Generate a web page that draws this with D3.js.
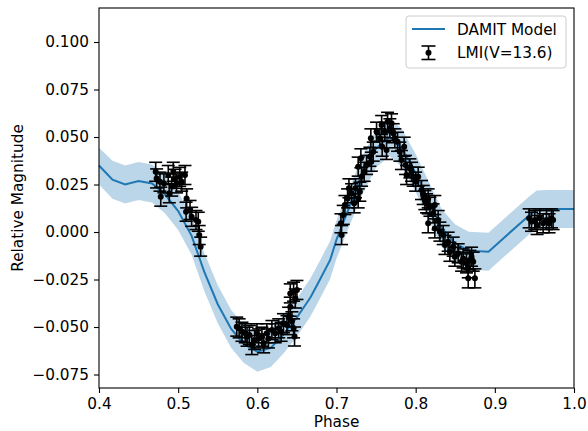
<!DOCTYPE html>
<html>
<head>
<meta charset="utf-8">
<script src="https://cdn.jsdelivr.net/npm/d3@7"></script>
<style>
  body { margin: 0; background: #fff; }
  svg text { font-family: "DejaVu Sans", sans-serif; }
</style>
</head>
<body>
<div id="chart"></div>
<script>
// DAMIT model curve (phase, magnitude, band lower/upper)
const modelPhase = [0.400, 0.417, 0.433, 0.450, 0.467, 0.483, 0.500, 0.517, 0.533, 0.550, 0.567, 0.583,
  0.600, 0.617, 0.633, 0.650, 0.667, 0.676, 0.692, 0.700, 0.717, 0.733, 0.750, 0.767, 0.783, 0.800,
  0.817, 0.833, 0.850, 0.867, 0.892, 0.917, 0.944, 0.953, 0.967, 0.983, 1.000];
const modelMag = [0.0350, 0.0275, 0.0250, 0.0268, 0.0255, 0.0200, 0.0110, -0.0020, -0.0210, -0.0380, -0.0510, -0.0590,
  -0.0630, -0.0610, -0.0540, -0.0450, -0.0345, -0.0275, -0.0147, -0.0040, 0.0140, 0.0300, 0.0440, 0.0500, 0.0440, 0.0310,
  0.0160, 0.0020, -0.0060, -0.0098, -0.0104, -0.0010, 0.0090, 0.0118, 0.0121, 0.0121, 0.0121];
const modelLower = [0.0250, 0.0175, 0.0150, 0.0168, 0.0155, 0.0100, 0.0010, -0.0120, -0.0310, -0.0480, -0.0610, -0.0690,
  -0.0735, -0.0710, -0.0640, -0.0550, -0.0445, -0.0375, -0.0247, -0.0140, 0.0040, 0.0200, 0.0340, 0.0400, 0.0340, 0.0210,
  0.0060, -0.0080, -0.0160, -0.0198, -0.0204, -0.0110, -0.0010, 0.0018, 0.0021, 0.0021, 0.0021];
const modelUpper = [0.0444, 0.0375, 0.0350, 0.0368, 0.0355, 0.0300, 0.0210, 0.0080, -0.0110, -0.0280, -0.0410, -0.0490,
  -0.0530, -0.0510, -0.0440, -0.0350, -0.0245, -0.0175, -0.0047, 0.0060, 0.0240, 0.0400, 0.0540, 0.0600, 0.0540, 0.0410,
  0.0260, 0.0120, 0.0040, 0.0002, -0.0004, 0.0090, 0.0190, 0.0218, 0.0221, 0.0221, 0.0221];

// LMI photometry points
const lmiPhase = [
  0.4716, 0.4728, 0.4770, 0.4780, 0.4820, 0.4875, 0.4888, 0.4918, 0.4938, 0.4960, 0.4980, 0.5020, 0.5044,
  0.5086, 0.5107, 0.5100, 0.5150, 0.5170, 0.5225, 0.5254, 0.5266, 0.5284,
  0.5740, 0.5770, 0.5806, 0.5848, 0.5870, 0.5900, 0.5930, 0.5966, 0.5995, 0.6016, 0.6058, 0.6080, 0.6120,
  0.6140, 0.6184, 0.6226, 0.6270, 0.6300, 0.6330, 0.6374, 0.6395, 0.6416, 0.6437, 0.6458, 0.6416, 0.6458,
  0.6500, 0.6480, 0.6470,
  0.7064, 0.7056, 0.7085, 0.7106, 0.7140, 0.7157, 0.7190, 0.7223, 0.7240, 0.7274, 0.7295, 0.7274, 0.7317,
  0.7308, 0.7350, 0.7380, 0.7422, 0.7434, 0.7464, 0.7440, 0.7506, 0.7548, 0.7570, 0.7577, 0.7610, 0.7632,
  0.7645, 0.7674, 0.7695, 0.7716, 0.7737, 0.7771, 0.7800, 0.7820, 0.7855, 0.7872, 0.7885, 0.7927, 0.7948,
  0.7969, 0.8000, 0.8032, 0.8074, 0.8095, 0.8116, 0.8137, 0.8158, 0.8180, 0.8158, 0.8220, 0.8242, 0.8242,
  0.8284, 0.8306, 0.8348, 0.8370, 0.8410, 0.8432, 0.8474, 0.8495, 0.8537, 0.8580, 0.8600, 0.8642, 0.8664,
  0.8685, 0.8706, 0.8727, 0.8664, 0.8748,
  0.9433, 0.9463, 0.9505, 0.9534, 0.9568, 0.9610, 0.9652, 0.9685, 0.9716, 0.9736
];
const lmiMag = [
  0.0317, 0.0282, 0.0265, 0.0186, 0.0256, 0.0300, 0.0204, 0.0239, 0.0317, 0.0280, 0.0256, 0.0290, 0.0265,
  0.0300, 0.0177, 0.0107, 0.0116, 0.0080, 0.0063, 0.0054, -0.0016, -0.0077,
  -0.0498, -0.0507, -0.0525, -0.0533, -0.0551, -0.0542, -0.0595, -0.0568, -0.0533, -0.0560, -0.0551, -0.0586, -0.0533,
  -0.0560, -0.0516, -0.0533, -0.0507, -0.0525, -0.0480, -0.0490, -0.0446, -0.0393, -0.0470, -0.0507, -0.0323, -0.0314,
  -0.0305, -0.0350, -0.0550,
  -0.0016, 0.0046, 0.0090, 0.0142, 0.0177, 0.0230, 0.0204, 0.0151, 0.0230, 0.0177, 0.0212, 0.0344, 0.0291,
  0.0388, 0.0317, 0.0353, 0.0396, 0.0493, 0.0423, 0.0370, 0.0528, 0.0493, 0.0563, 0.0449, 0.0528, 0.0432,
  0.0580, 0.0546, 0.0572, 0.0520, 0.0493, 0.0475, 0.0423, 0.0379, 0.0449, 0.0353, 0.0300, 0.0335, 0.0317,
  0.0291, 0.0265, 0.0291, 0.0221, 0.0195, 0.0168, 0.0151, 0.0177, 0.0133, 0.0046, 0.0098, 0.0142, 0.0019,
  0.0063, 0.0002, -0.0016, -0.0068, -0.0051, -0.0104, -0.0077, -0.0130, -0.0112, -0.0156, -0.0139, -0.0165, -0.0191,
  -0.0147, -0.0130, -0.0156, -0.0244, -0.0244,
  0.0072, 0.0054, 0.0063, 0.0037, 0.0072, 0.0046, 0.0063, 0.0046, 0.0072, 0.0063
];
const lmiErr = 0.005;

const xTicks = [0.4, 0.5, 0.6, 0.7, 0.8, 0.9, 1.0];
const yTicks = [-0.075, -0.050, -0.025, 0.000, 0.025, 0.050, 0.075, 0.100];

const width = 588, height = 431;
const margin = { left: 99, right: 14, top: 8, bottom: 43 };
const fontSize = 15.3;
const blue = "#1f77b4";

const svg = d3.select("#chart")
  .append("svg")
  .attr("width", width)
  .attr("height", height);

const x = d3.scaleLinear().domain([0.4, 1.0]).range([margin.left, width - margin.right]);
const y = d3.scaleLinear().domain([-0.0821, 0.1179]).range([height - margin.bottom, margin.top]);

const model = modelPhase.map((p, i) => ({ p, m: modelMag[i], lo: modelLower[i], hi: modelUpper[i] }));
const points = lmiPhase.map((p, i) => ({ p, m: lmiMag[i] }));

// Uncertainty band
svg.append("path")
  .datum(model)
  .attr("fill", blue)
  .attr("fill-opacity", 0.3)
  .attr("d", d3.area().x(d => x(d.p)).y0(d => y(d.lo)).y1(d => y(d.hi)));

// Model line
svg.append("path")
  .datum(model)
  .attr("fill", "none")
  .attr("stroke", blue)
  .attr("stroke-width", 2)
  .attr("d", d3.line().x(d => x(d.p)).y(d => y(d.m)));

// Error bars
const cap = 6.5;
const eb = svg.append("g").attr("stroke", "black").attr("stroke-width", 1.6);
points.forEach(d => {
  const cx = x(d.p), yt = y(d.m + lmiErr), yb = y(d.m - lmiErr);
  eb.append("line").attr("x1", cx).attr("x2", cx).attr("y1", yt).attr("y2", yb);
  eb.append("line").attr("x1", cx - cap).attr("x2", cx + cap).attr("y1", yt).attr("y2", yt);
  eb.append("line").attr("x1", cx - cap).attr("x2", cx + cap).attr("y1", yb).attr("y2", yb);
});
svg.append("g")
  .selectAll("circle")
  .data(points)
  .enter()
  .append("circle")
  .attr("cx", d => x(d.p))
  .attr("cy", d => y(d.m))
  .attr("r", 3)
  .attr("fill", "black");

// Axes
const xAxis = svg.append("g")
  .attr("transform", `translate(0,${height - margin.bottom})`)
  .call(d3.axisBottom(x).tickValues(xTicks).tickFormat(d3.format(".1f")).tickSize(5).tickPadding(5));
const yAxis = svg.append("g")
  .attr("transform", `translate(${margin.left},0)`)
  .call(d3.axisLeft(y).tickValues(yTicks).tickFormat(d3.format(".3f")).tickSize(5).tickPadding(5));
[xAxis, yAxis].forEach(a => {
  a.select(".domain").remove();
  a.selectAll("text").attr("font-size", fontSize).attr("font-family", "DejaVu Sans").attr("fill", "black");
  a.selectAll("line").attr("stroke", "black").attr("stroke-width", 1.1);
});

// Frame
svg.append("rect")
  .attr("x", margin.left)
  .attr("y", margin.top)
  .attr("width", width - margin.left - margin.right)
  .attr("height", height - margin.top - margin.bottom)
  .attr("fill", "none")
  .attr("stroke", "black")
  .attr("stroke-width", 1.1);

// Axis labels
svg.append("text")
  .attr("x", (margin.left + width - margin.right) / 2)
  .attr("y", 427)
  .attr("text-anchor", "middle")
  .attr("font-size", fontSize)
  .text("Phase");
svg.append("text")
  .attr("transform", `translate(23,${(margin.top + height - margin.bottom) / 2}) rotate(-90)`)
  .attr("text-anchor", "middle")
  .attr("font-size", fontSize)
  .text("Relative Magnitude");

// Legend
const lg = svg.append("g");
lg.append("rect")
  .attr("x", 406).attr("y", 16).attr("width", 160).attr("height", 52).attr("rx", 3)
  .attr("fill", "white").attr("fill-opacity", 0.8)
  .attr("stroke", "#cccccc").attr("stroke-width", 1);
lg.append("line")
  .attr("x1", 412).attr("x2", 445).attr("y1", 29).attr("y2", 29)
  .attr("stroke", blue).attr("stroke-width", 2);
lg.append("text").attr("x", 457).attr("y", 34.5).attr("font-size", fontSize).text("DAMIT Model");
const li = lg.append("g").attr("stroke", "black").attr("stroke-width", 1.6);
li.append("line").attr("x1", 428.5).attr("x2", 428.5).attr("y1", 46).attr("y2", 59.5);
li.append("line").attr("x1", 421.5).attr("x2", 435.5).attr("y1", 46).attr("y2", 46);
li.append("line").attr("x1", 421.5).attr("x2", 435.5).attr("y1", 59.5).attr("y2", 59.5);
lg.append("circle").attr("cx", 428.5).attr("cy", 52.7).attr("r", 3).attr("fill", "black");
lg.append("text").attr("x", 457).attr("y", 58).attr("font-size", fontSize).text("LMI(V=13.6)");
</script>
</body>
</html>
